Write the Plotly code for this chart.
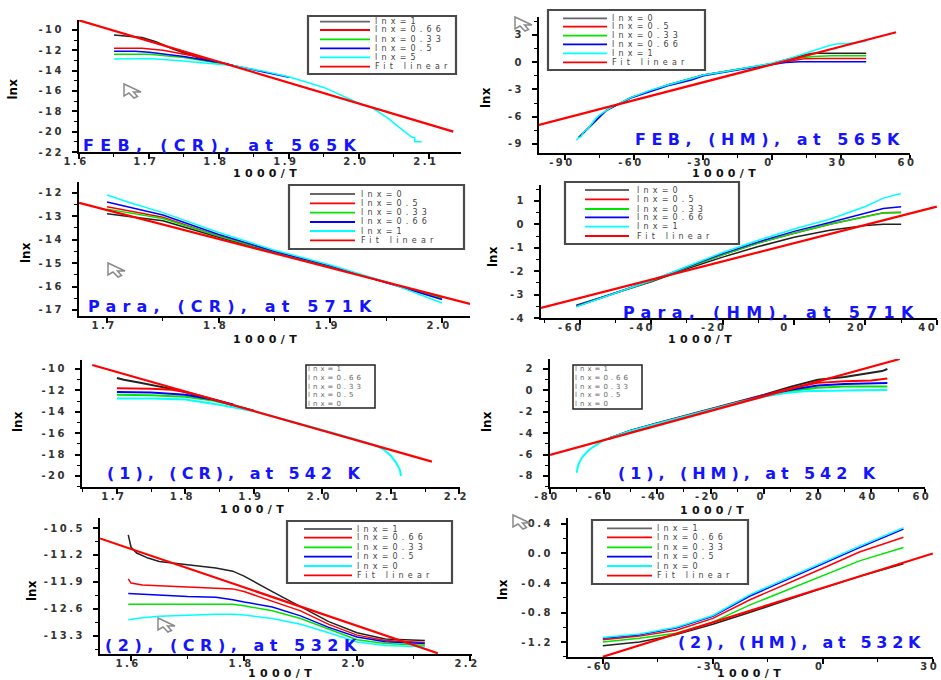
import plotly.graph_objects as go

W, H = 941, 680

# ======================= DATA =======================
# ---- Panel 1: FEB, (CR), at 565K ----
feb_cr_title = "FEB, (CR), at 565K"
feb_cr_names = ["lnx=1", "lnx=0.66", "lnx=0.33", "lnx=0.5", "lnx=5", "Fit linear"]
feb_cr_xticks = [1.6, 1.7, 1.8, 1.9, 2.0, 2.1]
feb_cr_xlabels = ["1.6", "1.7", "1.8", "1.9", "2.0", "2.1"]
feb_cr_yticks = [-10, -12, -14, -16, -18, -20, -22]
feb_cr_ylabels = ["-10", "-12", "-14", "-16", "-18", "-20", "-22"]
feb_cr_black_x = [1.65, 1.67, 1.69, 1.71, 1.735, 1.77, 1.80, 1.82]
feb_cr_black_y = [-10.5, -10.6, -10.75, -11.15, -11.9, -12.7, -13.2, -13.5]
feb_cr_red_x = [1.65, 1.69, 1.72, 1.76, 1.80, 1.82]
feb_cr_red_y = [-11.8, -11.8, -12.0, -12.5, -13.15, -13.5]
feb_cr_green_x = [1.65, 1.7, 1.75, 1.8, 1.82]
feb_cr_green_y = [-12.4, -12.4, -12.7, -13.25, -13.5]
feb_cr_blue_x = [1.65, 1.68, 1.7, 1.75, 1.8, 1.82, 1.86, 1.9]
feb_cr_blue_y = [-12.1, -12.1, -12.2, -12.6, -13.2, -13.5, -14.05, -14.65]
feb_cr_cyan_x = [1.65, 1.7, 1.74, 1.8, 1.82, 1.86, 1.9, 1.95, 2.0, 2.02, 2.04, 2.06, 2.07, 2.075, 2.08, 2.08, 2.09]
feb_cr_cyan_y = [-12.85, -12.8, -13.0, -13.34, -13.5, -14.0, -14.6, -15.65, -17.2, -17.7, -18.6, -19.7, -20.2, -20.5, -20.6, -21.0, -21.0]
feb_cr_fit_x = [1.6, 2.135]
feb_cr_fit_y = [-9.05, -20.0]

# ---- Panel 2: FEB, (HM), at 565K ----
feb_hm_title = "FEB, (HM), at 565K"
feb_hm_names = ["lnx=0", "lnx=0.5", "lnx=0.33", "lnx=0.66", "lnx=1", "Fit linear"]
feb_hm_xticks = [-90, -60, -30, 0, 30, 60]
feb_hm_xlabels = ["-90", "-60", "-30", "0", "30", "60"]
feb_hm_yticks = [3, 0, -3, -6, -9]
feb_hm_ylabels = ["3", "0", "-3", "-6", "-9"]
feb_hm_black_x = [-84, -80, -72, -61.4, -45.3, -29.7, -15, 0, 10, 17, 20, 41]
feb_hm_black_y = [-8.3, -7.3, -5.3, -3.9, -2.5, -1.4, -0.78, -0.15, 0.55, 0.95, 1.0, 1.0]
feb_hm_red_x = [-84, -80, -72, -61.4, -45.3, -29.7, -15, 0, 8, 14, 20, 41]
feb_hm_red_y = [-8.3, -7.3, -5.3, -3.9, -2.5, -1.4, -0.8, -0.2, 0.2, 0.38, 0.42, 0.42]
feb_hm_green_x = [-84, -80, -72, -61.4, -45.3, -29.7, -15, 0, 10, 18, 26, 41]
feb_hm_green_y = [-8.3, -7.3, -5.3, -3.9, -2.5, -1.4, -0.8, -0.15, 0.4, 0.62, 0.72, 0.72]
feb_hm_blue_x = [-84, -80, -72, -61.4, -50, -45.3, -35, -29.7, -15, 0, 6, 12, 41]
feb_hm_blue_y = [-8.3, -7.3, -5.3, -3.95, -2.95, -2.6, -1.95, -1.5, -0.85, -0.25, -0.02, 0.05, 0.05]
feb_hm_cyan_x = [-85, -84, -83, -82, -80, -76, -72, -68.8, -61.4, -53, -45.3, -37, -29.7, -22, -15, -7, 0, 7, 14, 20, 25, 28, 33, 41]
feb_hm_cyan_y = [-8.6, -8.3, -8.2, -7.7, -7.3, -6.0, -5.3, -4.8, -3.9, -3.1, -2.5, -1.95, -1.4, -1.1, -0.78, -0.45, -0.12, 0.35, 0.95, 1.4, 1.85, 2.0, 2.05, 2.3]
feb_hm_fit_x = [-101.3, 54]
feb_hm_fit_y = [-6.9, 3.3]

# ---- Panel 3: Para, (CR), at 571K ----
para_cr_title = "Para, (CR), at 571K"
para_cr_names = ["lnx=0", "lnx=0.5", "lnx=0.33", "lnx=0.66", "lnx=1", "Fit linear"]
para_cr_xticks = [1.7, 1.8, 1.9, 2.0]
para_cr_xlabels = ["1.7", "1.8", "1.9", "2.0"]
para_cr_yticks = [-12, -13, -14, -15, -16, -17]
para_cr_ylabels = ["-12", "-13", "-14", "-15", "-16", "-17"]
para_cr_x = [1.7, 1.75, 1.8, 1.85, 1.9, 1.95, 2.0]
para_cr_black_y = [-12.9, -13.2, -13.9, -14.55, -15.15, -15.82, -16.5]
para_cr_red_y = [-12.6, -13.05, -13.85, -14.52, -15.15, -15.82, -16.5]
para_cr_green_y = [-12.7, -13.1, -13.85, -14.52, -15.15, -15.82, -16.5]
para_cr_blue_y = [-12.4, -12.95, -13.78, -14.5, -15.12, -15.82, -16.55]
para_cr_cyan_x = [1.7, 1.72, 1.75, 1.8, 1.85, 1.9, 1.95, 2.0]
para_cr_cyan_y = [-12.1, -12.42, -12.85, -13.7, -14.45, -15.08, -15.8, -16.7]
para_cr_fit_x = [1.675, 2.025]
para_cr_fit_y = [-12.43, -16.74]

# ---- Panel 4: Para, (HM), at 571K ----
para_hm_title = "Para, (HM), at 571K"
para_hm_names = ["lnx=0", "lnx=0.5", "lnx=0.33", "lnx=0.66", "lnx=1", "Fit linear"]
para_hm_xticks = [-60, -40, -20, 0, 20, 40]
para_hm_xlabels = ["-60", "-40", "-20", "0", "20", "40"]
para_hm_yticks = [1, 0, -1, -2, -3, -4]
para_hm_ylabels = ["1", "0", "-1", "-2", "-3", "-4"]
para_hm_x = [-61, -50, -40, -30, -20, -10, 0, 10, 20, 25, 30]
para_hm_black_y = [-3.45, -2.92, -2.45, -1.9, -1.4, -0.95, -0.55, -0.25, -0.05, 0.0, 0.0]
para_hm_red_y = [-3.5, -2.93, -2.42, -1.85, -1.3, -0.8, -0.38, 0.0, 0.35, 0.5, 0.52]
para_hm_green_y = [-3.5, -2.93, -2.42, -1.85, -1.3, -0.8, -0.38, 0.0, 0.33, 0.48, 0.5]
para_hm_blue_y = [-3.5, -2.93, -2.4, -1.82, -1.25, -0.75, -0.3, 0.08, 0.5, 0.68, 0.75]
para_hm_cyan_x = [-61, -55, -50, -45, -40, -30, -20, -10, 0, 10, 20, 25, 30]
para_hm_cyan_y = [-3.52, -3.2, -2.95, -2.68, -2.4, -1.8, -1.2, -0.68, -0.2, 0.22, 0.76, 1.12, 1.32]
para_hm_fit_x = [-70.9, 40]
para_hm_fit_y = [-3.57, 0.76]

# ---- Panel 5: (1), (CR), at 542 K ----
s1_cr_title = "(1), (CR), at 542 K"
s1_cr_names = ["lnx=1", "lnx=0.66", "lnx=0.33", "lnx=0.5", "lnx=0"]
s1_cr_xticks = [1.7, 1.8, 1.9, 2.0, 2.1, 2.2]
s1_cr_xlabels = ["1.7", "1.8", "1.9", "2.0", "2.1", "2.2"]
s1_cr_yticks = [-10, -12, -14, -16, -18, -20]
s1_cr_ylabels = ["-10", "-12", "-14", "-16", "-18", "-20"]
s1_cr_black_x = [1.7, 1.71, 1.734, 1.76, 1.79, 1.83, 1.87, 1.9]
s1_cr_black_y = [-10.85, -11.0, -11.28, -11.6, -12.0, -12.7, -13.4, -13.9]
s1_cr_red_x = [1.7, 1.75, 1.78, 1.8, 1.83, 1.87]
s1_cr_red_y = [-11.8, -11.85, -11.95, -12.15, -12.65, -13.35]
s1_cr_green_x = [1.7, 1.75, 1.8, 1.84, 1.87]
s1_cr_green_y = [-12.4, -12.45, -12.6, -12.95, -13.4]
s1_cr_blue_x = [1.7, 1.75, 1.8, 1.84, 1.87]
s1_cr_blue_y = [-12.15, -12.2, -12.4, -12.85, -13.35]
s1_cr_cyan_x = [1.7, 1.75, 1.8, 1.85, 1.9, 1.95, 2.0, 2.05, 2.08, 2.09, 2.1, 2.108, 2.113, 2.115]
s1_cr_cyan_y = [-12.75, -12.75, -12.85, -13.35, -13.95, -14.8, -15.7, -16.6, -17.2, -17.55, -18.1, -18.8, -19.4, -20.0]
s1_cr_fit_x = [1.664, 2.16]
s1_cr_fit_y = [-9.63, -18.66]

# ---- Panel 6: (1), (HM), at 542 K ----
s1_hm_title = "(1), (HM), at 542 K"
s1_hm_names = ["lnx=1", "lnx=0.66", "lnx=0.33", "lnx=0.5", "lnx=0"]
s1_hm_xticks = [-80, -60, -40, -20, 0, 20, 40, 60]
s1_hm_xlabels = ["-80", "-60", "-40", "-20", "0", "20", "40", "60"]
s1_hm_yticks = [2, 0, -2, -4, -6, -8]
s1_hm_ylabels = ["2", "0", "-2", "-4", "-6", "-8"]
s1_hm_black_x = [-58, -50, -40, -30, -20, -10, 0, 10, 20, 30, 40, 44, 46]
s1_hm_black_y = [-4.5, -3.78, -3.08, -2.4, -1.75, -1.1, -0.4, 0.35, 1.0, 1.25, 1.6, 1.8, 2.0]
s1_hm_red_x = [-58, -50, -40, -30, -20, -10, 0, 10, 20, 30, 40, 46]
s1_hm_red_y = [-4.5, -3.8, -3.1, -2.43, -1.78, -1.12, -0.45, 0.2, 0.7, 0.85, 0.92, 1.1]
s1_hm_mid_x = [-58, -50, -40, -30, -20, -10, 0, 10, 20, 30, 46]
s1_hm_green_y = [-4.5, -3.8, -3.12, -2.45, -1.8, -1.15, -0.55, -0.05, 0.25, 0.35, 0.37]
s1_hm_blue_y = [-4.5, -3.8, -3.12, -2.45, -1.8, -1.15, -0.5, 0.05, 0.45, 0.6, 0.68]
s1_hm_cyan_x = [-70, -69.6, -69, -68, -66, -64, -60, -55, -50, -40, -30, -20, -10, 0, 8, 15, 25, 35, 46]
s1_hm_cyan_y = [-7.7, -7.1, -6.7, -6.25, -5.7, -5.3, -4.65, -4.2, -3.8, -3.12, -2.45, -1.8, -1.15, -0.58, -0.25, -0.08, 0.0, 0.02, 0.03]
s1_hm_fit_x = [-80, 50.6]
s1_hm_fit_y = [-6.04, 2.93]

# ---- Panel 7: (2), (CR), at 532K ----
s2_cr_title = "(2), (CR), at 532K"
s2_cr_names = ["lnx=1", "lnx=0.66", "lnx=0.33", "lnx=0.5", "lnx=0", "Fit linear"]
s2_cr_xticks = [1.6, 1.8, 2.0, 2.2]
s2_cr_xlabels = ["1.6", "1.8", "2.0", "2.2"]
s2_cr_yticks = [-10.5, -11.2, -11.9, -12.6, -13.3]
s2_cr_ylabels = ["-10.5", "-11.2", "-11.9", "-12.6", "-13.3"]
s2_cr_black_x = [1.595, 1.597, 1.6, 1.61, 1.63, 1.65, 1.7, 1.75, 1.78, 1.8, 1.85, 1.9, 1.95, 2.0, 2.05, 2.12]
s2_cr_black_y = [-10.68, -10.85, -11.0, -11.15, -11.28, -11.37, -11.46, -11.54, -11.62, -11.75, -12.15, -12.55, -12.93, -13.22, -13.38, -13.42]
s2_cr_red_x = [1.595, 1.6, 1.62, 1.65, 1.7, 1.75, 1.78, 1.8, 1.85, 1.9, 1.95, 2.0, 2.05, 2.12]
s2_cr_red_y = [-11.82, -11.93, -11.98, -12.0, -12.03, -12.05, -12.08, -12.15, -12.4, -12.65, -13.0, -13.28, -13.42, -13.47]
s2_cr_x = [1.595, 1.65, 1.7, 1.75, 1.78, 1.8, 1.85, 1.9, 1.95, 2.0, 2.05, 2.12]
s2_cr_green_y = [-12.48, -12.48, -12.47, -12.47, -12.48, -12.52, -12.65, -12.85, -13.13, -13.4, -13.5, -13.54]
s2_cr_blue_y = [-12.2, -12.25, -12.28, -12.3, -12.36, -12.42, -12.55, -12.78, -13.08, -13.33, -13.45, -13.5]
s2_cr_cyan_x = [1.595, 1.62, 1.65, 1.7, 1.75, 1.78, 1.8, 1.85, 1.9, 1.95, 2.0, 2.05, 2.12]
s2_cr_cyan_y = [-12.88, -12.83, -12.79, -12.76, -12.74, -12.74, -12.76, -12.85, -13.0, -13.22, -13.46, -13.55, -13.58]
s2_cr_fit_x = [1.545, 2.143]
s2_cr_fit_y = [-10.77, -13.75]

# ---- Panel 8: (2), (HM), at 532K ----
s2_hm_title = "(2), (HM), at 532K"
s2_hm_names = ["lnx=1", "lnx=0.66", "lnx=0.33", "lnx=0.5", "lnx=0", "Fit linear"]
s2_hm_xticks = [-60, -30, 0, 30]
s2_hm_xlabels = ["-60", "-30", "0", "30"]
s2_hm_yticks = [0.4, 0.0, -0.4, -0.8, -1.2]
s2_hm_ylabels = ["0.4", "0.0", "-0.4", "-0.8", "-1.2"]
s2_hm_x = [-60, -50, -40, -30, -20, -10, 0, 10, 22]
s2_hm_black_y = [-1.25, -1.2, -1.1, -0.96, -0.8, -0.63, -0.47, -0.31, -0.14]
s2_hm_red_y = [-1.17, -1.12, -1.04, -0.88, -0.63, -0.42, -0.2, 0.02, 0.22]
s2_hm_green_y = [-1.2, -1.15, -1.08, -0.93, -0.7, -0.5, -0.3, -0.1, 0.08]
s2_hm_blue_y = [-1.15, -1.1, -1.01, -0.85, -0.58, -0.36, -0.15, 0.08, 0.33]
s2_hm_cyan_y = [-1.14, -1.09, -1.0, -0.84, -0.56, -0.34, -0.13, 0.1, 0.35]
s2_hm_fit_x = [-60, 30]
s2_hm_fit_y = [-1.4, 0.0]

axis_title_x = "1000/T"
axis_title_y = "lnx"

# ======================= STYLE / LAYOUT =======================
COLORS = ["#222222", "#ff0000", "#00e400", "#0000ff", "#00ffff"]
FIT_COLOR = "#ff0000"
TITLE_BLUE = "#1414ff"

# approximate advance widths of DejaVu Sans Bold (em) to size letter-spacing
DJB = {"F": .683, "E": .683, "B": .762, ",": .380, " ": .348, "(": .457, ")": .457,
       "C": .734, "R": .770, "H": .838, "M": .995, "a": .675, "t": .478, "K": .775,
       "P": .733, "r": .493, "/": .365, "T": .682, ".": .380}


def text_w(s, size):
    return sum(DJB.get(c, .696) for c in s) * size


def X(px):
    return px / W


def Y(py):
    return 1 - py / H


def spaced(text, sp):
    return "<span style='letter-spacing:%.2fpx'>%s</span>" % (sp, text)


panels = [
    dict(title=feb_cr_title, names=feb_cr_names,
         series=[(feb_cr_black_x, feb_cr_black_y), (feb_cr_red_x, feb_cr_red_y),
                 (feb_cr_green_x, feb_cr_green_y), (feb_cr_blue_x, feb_cr_blue_y),
                 (feb_cr_cyan_x, feb_cr_cyan_y)],
         fit=(feb_cr_fit_x, feb_cr_fit_y),
         xt=(feb_cr_xticks, feb_cr_xlabels), yt=(feb_cr_yticks, feb_cr_ylabels),
         box=(79, 20, 461, 152), xr=[1.6, 2.146], yr=[-22, -9.02],
         xminor=(1.65, 0.1), yminor=(-11, 2), xshift=-3,
         leg=(308, 16, 456, 74), samp=(320, 370), textx=375,
         rows=[21.7, 30, 39.3, 48.3, 57.3, 66.7],
         tpos=(83, 145, 279), ylab=(12.5, 89), xlab=(233, 173), lw=1.5),
    dict(title=feb_hm_title, names=feb_hm_names,
         series=[(feb_hm_black_x, feb_hm_black_y), (feb_hm_red_x, feb_hm_red_y),
                 (feb_hm_green_x, feb_hm_green_y), (feb_hm_blue_x, feb_hm_blue_y),
                 (feb_hm_cyan_x, feb_hm_cyan_y)],
         fit=(feb_hm_fit_x, feb_hm_fit_y),
         xt=(feb_hm_xticks, feb_hm_xlabels), yt=(feb_hm_yticks, feb_hm_ylabels),
         box=(539, 17, 910, 153), xr=[-101.3, 60.05], yr=[-10.0, 4.98],
         xminor=(-75, 30), yminor=(1.5, 3), xshift=-3,
         leg=(548, 10, 705, 70), samp=(563, 607), textx=612,
         rows=[18.3, 26.7, 35.7, 44.3, 53.3, 62.3],
         tpos=(635, 140, 270), ylab=(486, 98), xlab=(692, 173), lw=1.5),
    dict(title=para_cr_title, names=para_cr_names,
         series=[(para_cr_x, para_cr_black_y), (para_cr_x, para_cr_red_y),
                 (para_cr_x, para_cr_green_y), (para_cr_x, para_cr_blue_y),
                 (para_cr_cyan_x, para_cr_cyan_y)],
         fit=(para_cr_fit_x, para_cr_fit_y),
         xt=(para_cr_xticks, para_cr_xlabels), yt=(para_cr_yticks, para_cr_ylabels),
         box=(79, 182, 470, 316), xr=[1.6749, 2.025], yr=[-17.256, -11.544],
         xminor=(1.75, 0.1), yminor=(-12.5, 1), xshift=-3,
         leg=(289, 185, 464, 249), samp=(310, 355), textx=361,
         rows=[194, 203.3, 212.7, 222, 231, 240.3],
         tpos=(88, 307, 290), ylab=(26, 253), xlab=(233, 339), lw=1.5),
    dict(title=para_hm_title, names=para_hm_names,
         series=[(para_hm_x, para_hm_black_y), (para_hm_x, para_hm_red_y),
                 (para_hm_x, para_hm_green_y), (para_hm_x, para_hm_blue_y),
                 (para_hm_cyan_x, para_hm_cyan_y)],
         fit=(para_hm_fit_x, para_hm_fit_y),
         xt=(para_hm_xticks, para_hm_xlabels), yt=(para_hm_yticks, para_hm_ylabels),
         box=(541, 185, 937, 318), xr=[-70.9, 40.05], yr=[-4, 1.68],
         xminor=(-70, 20), yminor=(0.5, 1), xshift=-9,
         leg=(565, 182, 739, 244), samp=(585, 629), textx=637,
         rows=[190, 199.3, 209, 217.3, 226.7, 236],
         tpos=(623, 313, 297), ylab=(493, 257), xlab=(668, 339), lw=1.5),
    dict(title=s1_cr_title, names=s1_cr_names,
         series=[(s1_cr_black_x, s1_cr_black_y), (s1_cr_red_x, s1_cr_red_y),
                 (s1_cr_green_x, s1_cr_green_y), (s1_cr_blue_x, s1_cr_blue_y),
                 (s1_cr_cyan_x, s1_cr_cyan_y)],
         fit=(s1_cr_fit_x, s1_cr_fit_y),
         xt=(s1_cr_xticks, s1_cr_xlabels), yt=(s1_cr_yticks, s1_cr_ylabels),
         box=(82, 360, 460, 487), xr=[1.649, 2.201], yr=[-21.03, -9.16],
         xminor=(1.65, 0.1), yminor=(-11, 2), xshift=-3,
         leg=(306, 365, 375, 408), samp=None, textx=308,
         rows=[369.3, 377.7, 386.7, 395, 404],
         tpos=(107, 473, 258), ylab=(18, 422), xlab=(220, 509), lw=2),
    dict(title=s1_hm_title, names=s1_hm_names,
         series=[(s1_hm_black_x, s1_hm_black_y), (s1_hm_red_x, s1_hm_red_y),
                 (s1_hm_mid_x, s1_hm_green_y), (s1_hm_mid_x, s1_hm_blue_y),
                 (s1_hm_cyan_x, s1_hm_cyan_y)],
         fit=(s1_hm_fit_x, s1_hm_fit_y),
         xt=(s1_hm_xticks, s1_hm_xlabels), yt=(s1_hm_yticks, s1_hm_ylabels),
         box=(550, 359, 925, 487), xr=[-80, 60.05], yr=[-9.03, 2.93],
         xminor=(-70, 20), yminor=(1, 2), xshift=-3,
         leg=(573, 365, 642, 409), samp=None, textx=575,
         rows=[369.3, 377.7, 386.7, 395, 404],
         tpos=(618, 473, 262), ylab=(487, 422), xlab=(680, 510), lw=2),
    dict(title=s2_cr_title, names=s2_cr_names,
         series=[(s2_cr_black_x, s2_cr_black_y), (s2_cr_red_x, s2_cr_red_y),
                 (s2_cr_x, s2_cr_green_y), (s2_cr_x, s2_cr_blue_y),
                 (s2_cr_cyan_x, s2_cr_cyan_y)],
         fit=(s2_cr_fit_x, s2_cr_fit_y),
         xt=(s2_cr_xticks, s2_cr_xlabels), yt=(s2_cr_yticks, s2_cr_ylabels),
         box=(100, 518, 472, 654), xr=[1.545, 2.2035], yr=[-13.77, -10.24],
         xminor=(1.7, 0.2), yminor=(-10.85, 0.7), xshift=-3,
         leg=(287, 521, 452, 583), samp=(304, 352), textx=357,
         rows=[529, 537.7, 547.3, 556.7, 566, 575.3],
         tpos=(105, 645, 257), ylab=(32, 590), xlab=(248, 673), lw=1.5),
    dict(title=s2_hm_title, names=s2_hm_names,
         series=[(s2_hm_x, s2_hm_black_y), (s2_hm_x, s2_hm_red_y),
                 (s2_hm_x, s2_hm_green_y), (s2_hm_x, s2_hm_blue_y),
                 (s2_hm_x, s2_hm_cyan_y)],
         fit=(s2_hm_fit_x, s2_hm_fit_y),
         xt=(s2_hm_xticks, s2_hm_xlabels), yt=(s2_hm_yticks, s2_hm_ylabels),
         box=(568, 518, 933, 657), xr=[-69.5, 30.05], yr=[-1.403, 0.481],
         xminor=(-45, 30), yminor=(0.2, 0.4), xshift=-3,
         leg=(592, 520, 748, 584), samp=(607, 652), textx=657,
         rows=[528.3, 537.3, 547.3, 556.7, 566, 575.7],
         tpos=(678, 642, 247), ylab=(503, 590), xlab=(717, 673), lw=1.5),
]

cursor_tips = [(124, 84), (515, 17), (108, 263), (158, 618), (513, 515)]
cursor_shape = [(0, 0), (0, 12), (5, 9), (10, 14), (13.5, 12.5), (9.5, 8), (17, 8)]

fig = go.Figure()
layout = dict(
    width=W, height=H, autosize=False,
    margin=dict(l=0, r=0, t=0, b=0, pad=0, autoexpand=False),
    paper_bgcolor="white", plot_bgcolor="white",
    showlegend=False,
    font=dict(family="DejaVu Sans", color="#222"),
)
shapes = []
annotations = []

tickfont = dict(family="DejaVu Sans", size=10, color="#333", weight="bold")
TITLE_SIZE = 16

for i, p in enumerate(panels, start=1):
    sfx = "" if i == 1 else str(i)
    L, T, R, B = p["box"]
    for (xs, ys), col in zip(p["series"], COLORS):
        fig.add_trace(go.Scatter(x=xs, y=ys, mode="lines",
                                 line=dict(color=col, width=p["lw"]),
                                 xaxis="x" + sfx, yaxis="y" + sfx,
                                 hoverinfo="skip"))
    fx, fy = p["fit"]
    fig.add_trace(go.Scatter(x=fx, y=fy, mode="lines",
                             line=dict(color=FIT_COLOR, width=2.2),
                             xaxis="x" + sfx, yaxis="y" + sfx, hoverinfo="skip"))

    common = dict(showline=True, linecolor="black", linewidth=2,
                  ticks="outside", ticklen=5, tickwidth=1.5, tickcolor="black",
                  tickmode="array", tickfont=tickfont, automargin=False,
                  ticklabeloverflow="allow",
                  showgrid=False, zeroline=False, fixedrange=True)
    layout["xaxis" + sfx] = dict(
        common, domain=[X(L), X(R)], range=p["xr"], anchor="y" + sfx,
        tickvals=p["xt"][0], ticktext=[spaced(t, 2.5) for t in p["xt"][1]],
        ticklabelshift=p["xshift"], ticklabelstandoff=-6,
        minor=dict(tickmode="linear", tick0=p["xminor"][0], dtick=p["xminor"][1],
                   ticks="outside", ticklen=3, tickwidth=1.2, tickcolor="black",
                   showgrid=False))
    layout["yaxis" + sfx] = dict(
        common, domain=[Y(B), Y(T)], range=p["yr"], anchor="x" + sfx,
        tickvals=p["yt"][0], ticktext=[spaced(t, 2.5) for t in p["yt"][1]],
        ticklabelstandoff=6,
        minor=dict(tickmode="linear", tick0=p["yminor"][0], dtick=p["yminor"][1],
                   ticks="outside", ticklen=3, tickwidth=1.2, tickcolor="black",
                   showgrid=False))

    # panel title (blue text inside the plot)
    tx, ty, tw = p["tpos"]
    sp = (tw - text_w(p["title"], TITLE_SIZE)) / len(p["title"])
    annotations.append(dict(
        x=X(tx), y=Y(ty), xref="paper", yref="paper",
        xanchor="left", yanchor="middle", align="left", showarrow=False,
        borderpad=0, borderwidth=0,
        text=spaced(p["title"], sp),
        font=dict(family="DejaVu Sans", size=TITLE_SIZE, color=TITLE_BLUE, weight="bold")))
    # axis titles
    annotations.append(dict(
        x=X(p["ylab"][0]), y=Y(p["ylab"][1]), xref="paper", yref="paper",
        xanchor="center", yanchor="middle", showarrow=False, textangle=-90,
        text=axis_title_y,
        font=dict(family="DejaVu Sans", size=12, color="black", weight="bold")))
    annotations.append(dict(
        x=X(p["xlab"][0]), y=Y(p["xlab"][1]), xref="paper", yref="paper",
        xanchor="left", yanchor="middle", align="left", showarrow=False,
        borderpad=0, borderwidth=0,
        text=spaced(axis_title_x, 4.3),
        font=dict(family="DejaVu Sans", size=11, color="#111", weight="bold")))

    # legend box
    lx0, ly0, lx1, ly1 = p["leg"]
    if p["samp"] is not None:
        shapes.append(dict(type="rect", xref="paper", yref="paper",
                           x0=X(lx0), x1=X(lx1), y0=Y(ly1), y1=Y(ly0),
                           line=dict(color="#4a4a4a", width=2.2), fillcolor="white",
                           layer="above"))
        cols = COLORS + [FIT_COLOR]
        for name, col, ry in zip(p["names"], cols, p["rows"]):
            shapes.append(dict(type="line", xref="paper", yref="paper",
                               x0=X(p["samp"][0]), x1=X(p["samp"][1]),
                               y0=Y(ry), y1=Y(ry),
                               line=dict(color=("#666" if col == COLORS[0] else col), width=1.8),
                               layer="above"))
            annotations.append(dict(
                x=X(p["textx"]), y=Y(ry), xref="paper", yref="paper",
                xanchor="left", yanchor="middle", align="left", showarrow=False,
                borderpad=0, borderwidth=0,
                text=spaced(name, 4.2),
                font=dict(family="DejaVu Sans", size=8, color="#444")))
    else:
        shapes.append(dict(type="rect", xref="paper", yref="paper",
                           x0=X(lx0), x1=X(lx1), y0=Y(ly1), y1=Y(ly0),
                           line=dict(color="#222", width=1.5), fillcolor="white",
                           layer="above"))
        for name, ry in zip(p["names"], p["rows"]):
            annotations.append(dict(
                x=X(p["textx"]), y=Y(ry), xref="paper", yref="paper",
                xanchor="left", yanchor="middle", align="left", showarrow=False,
                borderpad=0, borderwidth=0,
                text=spaced(name, 3),
                font=dict(family="DejaVu Sans", size=7, color="#666")))

# cursor artefacts
for cx, cy in cursor_tips:
    pts = [(cx + dx, cy + dy) for dx, dy in cursor_shape]
    path = "M " + " L ".join("%.5f %.5f" % (X(a), Y(b)) for a, b in pts) + " Z"
    shapes.append(dict(type="path", xref="paper", yref="paper", path=path,
                       line=dict(color="#8a8a8a", width=1.5),
                       fillcolor="rgba(255,255,255,0.6)", layer="above"))

layout["shapes"] = shapes
layout["annotations"] = annotations
fig.update_layout(**layout)
fig.write_html("out.html", config={"displayModeBar": False},
               post_script="document.body.style.margin='0px';")
